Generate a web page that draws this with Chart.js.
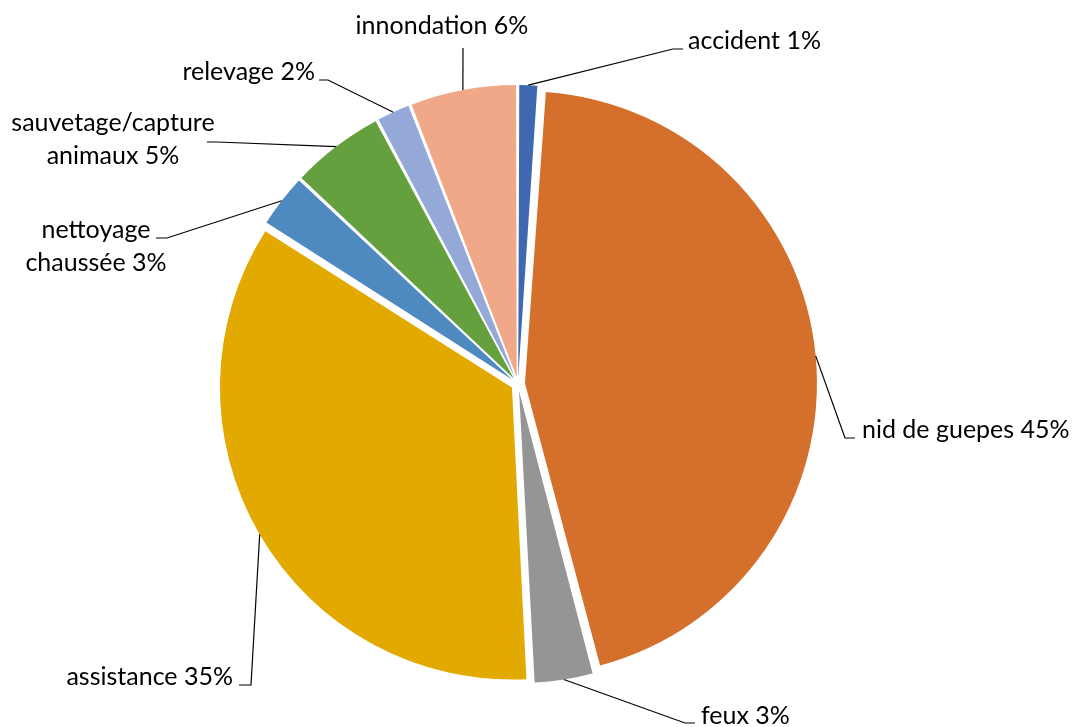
<!DOCTYPE html>
<html>
<head>
<meta charset="utf-8">
<script src="https://cdn.jsdelivr.net/npm/chart.js@4.4.1/dist/chart.umd.min.js"></script>
<style>
  html, body { margin: 0; padding: 0; background: #fff; }
  #wrap { width: 1074px; height: 727px; position: relative; }
</style>
</head>
<body>
<div id="wrap"><canvas id="grafico"></canvas></div>
<script>
// Données du graphique
const categories = ["accident", "nid de guepes", "feux", "assistance", "nettoyage chaussée", "sauvetage/capture animaux", "relevage", "innondation"];
const valeurs = [1.1, 44.8, 3.3, 34.8, 3.0, 5.2, 1.9, 5.9];
const couleurs = ["#3E68B0", "#D4702C", "#959595", "#E2AA00", "#4E8AC0", "#65A03E", "#95A9D8", "#F1A889"];

// Placement des étiquettes (texte + trait de rappel)
const etiquettes = [
    { x: 688, y: 49, align: "left", coude: [673, 49], bout: [683, 49] },
    { x: 862, y: 438, align: "left", coude: [845, 438], bout: [855, 438] },
    { x: 701, y: 724, align: "left", coude: [685, 723], bout: [695, 723] },
    { x: 233, y: 685, align: "right", coude: [251, 685], bout: [239, 685] },
    { x: 96, y: 238, align: "center", coude: [167, 238], bout: [156, 238], wrap: true },
    { x: 113, y: 131, align: "center", coude: [217, 142], bout: [207, 142], wrap: true },
    { x: 315, y: 80, align: "right", coude: [328, 80], bout: [319, 80] },
    { x: 442, y: 34, align: "center", coude: [463, 48], bout: [463, 48] }
];

const RAYON = 292;
const ECART = 28; // chart.js v4 divise l'offset par 4 -> 7px

// garde le même rayon pour toutes les parts malgré l'offset
const rayonFixe = {
    id: "rayonFixe",
    beforeDatasetsDraw(chart) {
        const meta = chart.getDatasetMeta(0);
        meta.data.forEach(arc => {
            const circ = arc.endAngle - arc.startAngle;
            const fix = 1 - Math.sin(Math.min(Math.PI, circ));
            arc.outerRadius = RAYON - (ECART / 4) * fix;
        });
    }
};

const etiquettesPlugin = {
    id: "etiquettes",
    afterDraw(chart) {
        const ctx = chart.ctx;
        const meta = chart.getDatasetMeta(0);
        const total = valeurs.reduce((a, b) => a + b, 0);
        ctx.save();
        ctx.font = "25px Lato";
        ctx.fillStyle = "#000";
        ctx.strokeStyle = "#000";
        ctx.lineWidth = 1.2;
        meta.data.forEach((arc, i) => {
            const e = etiquettes[i];
            const mid = (arc.startAngle + arc.endAngle) / 2;
            const r = ECART / 4 + RAYON;
            const sx = arc.x + Math.cos(mid) * r;
            const sy = arc.y + Math.sin(mid) * r;
            ctx.beginPath();
            ctx.moveTo(sx, sy);
            ctx.lineTo(e.coude[0], e.coude[1]);
            ctx.lineTo(e.bout[0], e.bout[1]);
            ctx.stroke();

            const pct = Math.round(valeurs[i] / total * 100) + "%";
            let lignes;
            if (e.wrap) {
                const k = categories[i].indexOf(" ");
                lignes = [categories[i].slice(0, k), categories[i].slice(k + 1) + " " + pct];
            } else {
                lignes = [categories[i] + " " + pct];
            }
            ctx.textAlign = e.align;
            ctx.textBaseline = "alphabetic";
            lignes.forEach((l, j) => ctx.fillText(l, e.x, e.y + j * 33));
        });
        ctx.restore();
    }
};

new Chart(document.getElementById("grafico"), {
    type: "pie",
    data: {
        labels: categories,
        datasets: [{
            data: valeurs,
            backgroundColor: couleurs,
            borderWidth: 0,
            offset: ECART
        }]
    },
    options: {
        responsive: true,
        maintainAspectRatio: false,
        animation: false,
        radius: RAYON,
        layout: { padding: { left: 0, right: 38, top: 41, bottom: 0 } },
        plugins: {
            legend: { display: false },
            tooltip: { enabled: false }
        }
    },
    plugins: [rayonFixe, etiquettesPlugin]
});
</script>
</body>
</html>
